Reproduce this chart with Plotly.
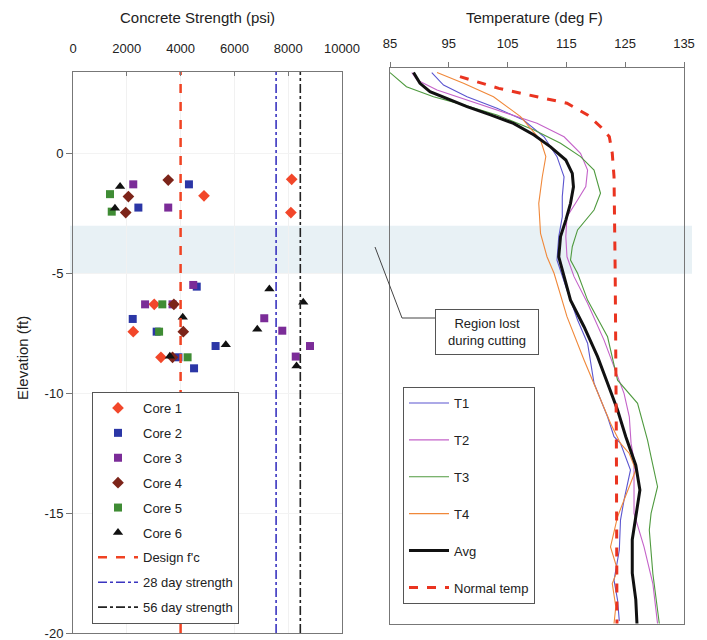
import plotly.graph_objects as go

W, H = 707, 640

# ---------------- Concrete strength data (psi, elevation ft) ----------------
core1_x = [8130, 4870, 8100, 3020, 2240, 3270]
core1_y = [-1.06, -1.75, -2.45, -6.28, -7.42, -8.49]
core2_x = [4310, 2430, 4600, 2220, 3110, 5300, 3920, 4500]
core2_y = [-1.27, -2.24, -5.54, -6.89, -7.42, -8.02, -8.49, -8.95]
core3_x = [2240, 3540, 4470, 2680, 3700, 7110, 7780, 8810, 8280]
core3_y = [-1.27, -2.24, -5.47, -6.28, -6.28, -6.86, -7.38, -8.02, -8.46]
core4_x = [3540, 2060, 1960, 3750, 4100, 3700]
core4_y = [-1.09, -1.78, -2.45, -6.28, -7.42, -8.49]
core5_x = [1375, 1440, 3320, 3200, 4260]
core5_y = [-1.68, -2.41, -6.28, -7.42, -8.49]
core6_x = [1750, 1560, 7300, 8560, 4080, 6850, 5680, 8310, 3600]
core6_y = [-1.36, -2.27, -5.64, -6.19, -6.82, -7.32, -7.97, -8.85, -8.45]

design_fc = 4000
day28 = 7550
day56 = 8450
strength_elev = [-20, 3.42]

# ---------------- Temperature profiles (deg F, elevation ft) ----------------
normal_T = [96.9, 103.5, 110.0, 115.1, 118.6, 120.8, 122.3, 122.8, 123.1, 123.3, 123.5, 123.6]
normal_y = [3.23, 2.74, 2.39, 2.12, 1.63, 1.14, 0.72, 0.03, -0.95, -5.0, -12.0, -19.6]

avg_T = [89.0, 90.1, 91.8, 94.7, 98.1, 102.1, 106.0, 109.5, 112.3, 114.9, 116.0, 116.2,
         115.7, 114.9, 114.0, 113.7, 114.3, 115.7, 118.0, 120.3, 122.0, 123.7, 125.1,
         126.8, 127.5, 126.8, 126.2, 126.2, 126.8, 127.0]
avg_y = [3.4, 2.95, 2.6, 2.32, 1.98, 1.63, 1.28, 0.79, 0.3, -0.25, -0.81, -1.37,
         -2.06, -2.76, -3.45, -4.29, -4.84, -6.1, -7.21, -8.46, -9.57, -10.69, -11.8,
         -12.99, -14.03, -15.14, -16.1, -17.5, -18.6, -19.6]

t1_T = [92.1, 94.1, 98.1, 103.2, 107.7, 111.2, 113.4, 114.6, 114.3, 114.3, 113.7, 113.4,
        115.1, 116.9, 118.6, 119.7, 122.0, 123.1, 124.2, 125.9, 124.8, 124.2, 124.0,
        123.1, 123.7, 124.0]
t1_y = [3.4, 2.88, 2.39, 1.91, 1.42, 0.72, -0.11, -0.95, -1.78, -2.62, -3.45, -4.43,
        -5.68, -6.93, -7.9, -9.57, -10.97, -11.8, -12.08, -13.19, -14.45, -15.28, -16.53,
        -17.79, -18.62, -19.5]

t2_T = [88.7, 89.6, 93.0, 98.1, 104.9, 110.0, 114.6, 117.4, 118.6, 118.3, 116.9, 115.1,
        114.9, 115.1, 116.3, 118.6, 121.4, 123.1, 124.8, 125.7, 126.0, 126.5, 126.5,
        126.5, 128.2, 129.7, 130.5]
t2_y = [3.4, 3.09, 2.67, 2.25, 1.7, 1.28, 0.72, 0.03, -0.67, -1.36, -1.92, -2.62,
        -3.45, -4.29, -5.12, -6.23, -7.77, -8.88, -9.99, -10.97, -12.08, -12.78, -14.03,
        -15.0, -16.4, -17.93, -19.6]

t3_T = [85.0, 87.8, 92.4, 97.5, 103.2, 109.5, 114.0, 117.4, 119.7, 120.8, 119.7, 116.9,
        116.0, 115.7, 116.9, 118.6, 122.0, 123.7, 127.1, 128.8, 129.4, 130.5, 129.4,
        129.1, 129.7, 130.5, 130.8]
t3_y = [3.4, 2.81, 2.39, 2.05, 1.63, 1.0, 0.45, -0.11, -0.67, -1.64, -2.34, -3.17,
        -3.87, -4.43, -4.98, -6.1, -7.63, -9.44, -10.41, -11.94, -12.64, -13.89, -15.0,
        -15.7, -17.51, -19.18, -19.6]

t4_T = [93.0, 97.5, 102.6, 107.2, 110.6, 111.5, 110.9, 110.3, 110.6, 111.7, 112.9, 115.1,
        118.0, 120.3, 122.5, 124.2, 125.7, 126.8, 124.8, 123.7, 122.5, 123.7, 122.8,
        123.4, 123.1]
t4_y = [3.4, 2.95, 2.39, 1.56, 0.58, -0.11, -0.95, -2.06, -3.31, -4.29, -4.98, -6.79,
        -8.6, -9.99, -11.24, -12.08, -12.5, -13.19, -14.45, -15.14, -16.4, -17.37, -17.93,
        -18.9, -19.6]

strength_ticks = [0, 2000, 4000, 6000, 8000, 10000]
strength_ticktext = ["0", "2000", "4000", "6000", "8000", "10000"]
temp_ticks = [85, 95, 105, 115, 125, 135]
elev_ticks = [0, -5, -10, -15, -20]
elev_ticktext = ["0", "-5", "-10", "-15", "-20"]
lost_region = [-5, -3]

FONT = "Liberation Sans, Arial, sans-serif"

fig = go.Figure()

def px_x(p):
    return p / W

def px_y(p):
    return (H - p) / H

# ---- Left panel traces ----
cores = [
    ("Core 1", core1_x, core1_y, "diamond", "#f2472a", 9),
    ("Core 2", core2_x, core2_y, "square", "#2b36a6", 8),
    ("Core 3", core3_x, core3_y, "square", "#7b2c98", 8),
    ("Core 4", core4_x, core4_y, "diamond", "#7c2419", 9),
    ("Core 5", core5_x, core5_y, "square", "#3f8c34", 8),
    ("Core 6", core6_x, core6_y, "triangle-up", "#111111", 9),
]
for i, (name, xs, ys, sym, col, sz) in enumerate(cores):
    fig.add_trace(go.Scatter(
        x=xs, y=ys, mode="markers", name=name,
        marker=dict(symbol=sym, color=col, size=sz, line=dict(width=0)),
        xaxis="x", yaxis="y", legend="legend", legendgroup=name,
    ))

ref_lines = [
    ("Design f'c", design_fc, "#f04323", "dash", 2.5),
    ("28 day strength", day28, "#3a35c0", "dashdot", 1.6),
    ("56 day strength", day56, "#222222", "dashdot", 1.6),
]
for name, xv, col, dash, wd in ref_lines:
    fig.add_trace(go.Scatter(
        x=[xv, xv], y=strength_elev, mode="lines", name=name,
        line=dict(color=col, dash=dash, width=wd),
        xaxis="x", yaxis="y", legend="legend", legendgroup=name,
    ))

# ---- Right panel traces ----
temps = [
    ("T1", t1_T, t1_y, "#5b55cf", 1.1, "solid"),
    ("T2", t2_T, t2_y, "#c463c9", 1.1, "solid"),
    ("T3", t3_T, t3_y, "#4f9a3f", 1.1, "solid"),
    ("T4", t4_T, t4_y, "#f0883a", 1.1, "solid"),
    ("Avg", avg_T, avg_y, "#111111", 3.0, "solid"),
    ("Normal temp", normal_T, normal_y, "#ea3420", 3.0, "dash"),
]
for name, xs, ys, col, wd, dash in temps:
    fig.add_trace(go.Scatter(
        x=xs, y=ys, mode="lines", name=name,
        line=dict(color=col, width=wd, dash=dash),
        xaxis="x2", yaxis="y2", legend="legend2", legendgroup=name,
    ))

# ---- Shapes ----
shapes = [
    dict(type="rect", xref="paper", yref="y", x0=px_x(70), x1=px_x(692),
         y0=lost_region[0], y1=lost_region[1],
         fillcolor="rgba(214,229,236,0.55)", line=dict(width=0), layer="below"),
    dict(type="path", xref="paper", yref="paper",
         path=f"M {px_x(375)},{px_y(247)} L {px_x(402)},{px_y(318)} L {px_x(435)},{px_y(318)}",
         line=dict(color="#444444", width=1)),
]

annotations = [
    dict(text="Concrete Strength (psi)", x=px_x(197), y=px_y(17), xref="paper", yref="paper",
         showarrow=False, font=dict(size=15, color="#222", family=FONT), xanchor="center", yanchor="middle"),
    dict(text="Temperature (deg F)", x=px_x(534), y=px_y(17), xref="paper", yref="paper",
         showarrow=False, font=dict(size=15, color="#222", family=FONT), xanchor="center", yanchor="middle"),
    dict(text="Elevation (ft)", x=px_x(22), y=px_y(358), xref="paper", yref="paper",
         showarrow=False, textangle=-90, font=dict(size=15, color="#222", family=FONT),
         xanchor="center", yanchor="middle"),
    dict(text="Region lost<br>during cutting", x=px_x(487), y=px_y(332), xref="paper", yref="paper",
         showarrow=False, font=dict(size=13, color="#222", family=FONT),
         bordercolor="#555", borderwidth=1, borderpad=6, bgcolor="white",
         width=90, xanchor="center", yanchor="middle"),
]

axis_common = dict(showline=True, linecolor="#777777", linewidth=1, mirror=True,
                   zeroline=False, tickfont=dict(size=13, color="#222", family=FONT),
                   automargin=False, ticklabeloverflow="allow")

fig.update_layout(
    width=W, height=H,
    margin=dict(l=0, r=0, t=0, b=0),
    paper_bgcolor="white",
    plot_bgcolor="rgba(0,0,0,0)",
    font=dict(family=FONT, size=13, color="#222"),
    shapes=shapes,
    annotations=annotations,
    xaxis=dict(domain=[px_x(73), px_x(342)], range=[0, 10000], side="top",
               tickvals=strength_ticks, ticktext=strength_ticktext,
               ticks="inside", ticklen=4, tickcolor="#777",
               ticklabelstandoff=13, showgrid=True, gridcolor="#f1f1f1", anchor="y",
               **axis_common),
    yaxis=dict(domain=[px_y(633), px_y(72)], range=[-20, 3.42], tickvals=elev_ticks,
               ticktext=elev_ticktext,
               ticks="outside", ticklen=6, tickcolor="#777", showgrid=True, gridcolor="#f3f3f3",
               anchor="x", **axis_common),
    xaxis2=dict(domain=[px_x(390), px_x(684)], range=[85, 135], side="top",
                tickvals=temp_ticks, ticks="outside", ticklen=5, tickcolor="#777",
                ticklabelstandoff=9, showgrid=False, anchor="y2", **axis_common),
    yaxis2=dict(domain=[px_y(624), px_y(68)], range=[-19.62, 3.59], showticklabels=False,
                ticks="", showgrid=False, anchor="x2", **axis_common),
    legend=dict(x=px_x(92), y=px_y(392), xanchor="left", yanchor="top",
                bordercolor="#555", borderwidth=1, bgcolor="white",
                font=dict(size=13, color="#222", family=FONT),
                traceorder="grouped", tracegroupgap=5, itemwidth=40),
    legend2=dict(x=px_x(403), y=px_y(387), xanchor="left", yanchor="top",
                 bordercolor="#555", borderwidth=1, bgcolor="white",
                 font=dict(size=13, color="#222", family=FONT),
                 traceorder="grouped", tracegroupgap=17, itemwidth=40),
)

fig.write_html("out.html", config={"displayModeBar": False},
               post_script="document.body.style.margin='0px';")
